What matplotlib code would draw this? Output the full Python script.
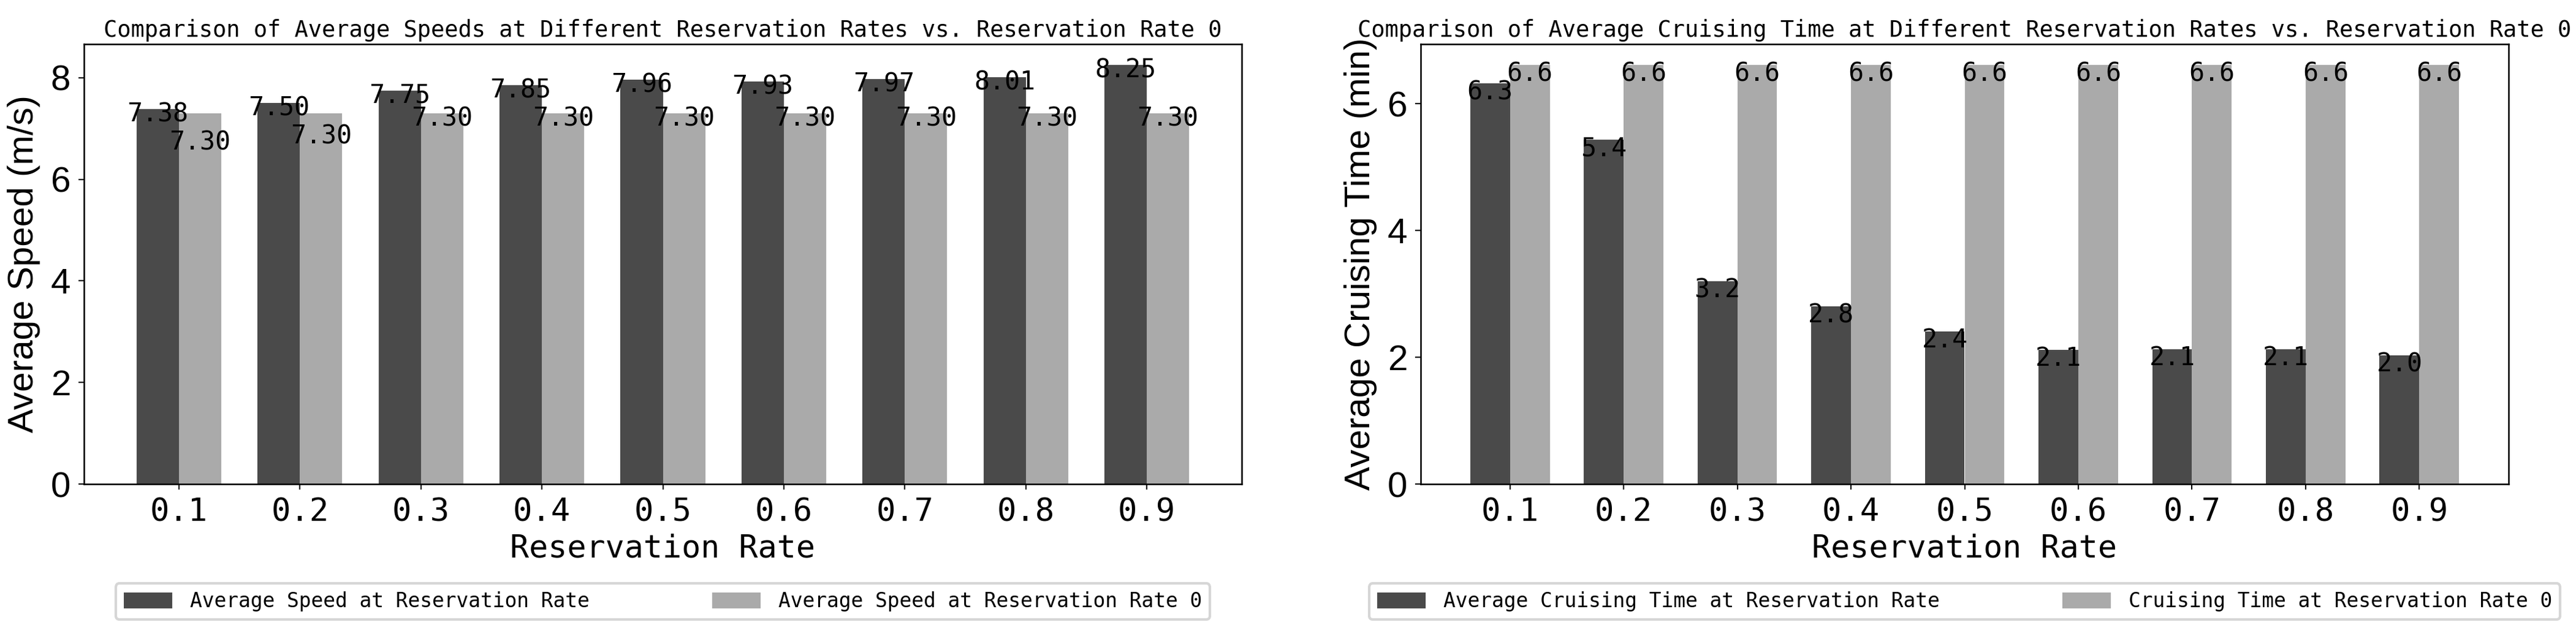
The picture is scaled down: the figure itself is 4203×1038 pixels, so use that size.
import matplotlib
matplotlib.use('Agg')
import matplotlib.pyplot as plt
import numpy as np

# default font for y ticks and y labels, a monospace one for the rest
plt.rcParams['font.family'] = ['Liberation Sans', 'DejaVu Sans']
MONO = 'DejaVu Sans Mono'

# x axis categories
rates = ['0.1', '0.2', '0.3', '0.4', '0.5', '0.6', '0.7', '0.8', '0.9']

# average speed (m/s)
speed_with_res = [7.38, 7.50, 7.75, 7.85, 7.96, 7.93, 7.97, 8.01, 8.25]
speed_rate0 = [7.30, 7.30, 7.30, 7.30, 7.30, 7.30, 7.30, 7.30, 7.30]

# average cruising time (min)
cruise_with_res = [6.32, 5.43, 3.20, 2.80, 2.41, 2.12, 2.13, 2.13, 2.03]
cruise_rate0 = [6.61, 6.61, 6.61, 6.61, 6.61, 6.61, 6.61, 6.61, 6.61]

DARK = '#4a4a4a'
LIGHT = '#aaaaaa'


def plot_panel(ax, with_res, rate0, fmt, title, ylabel, legend_labels, label_off):
    x = np.arange(len(rates))
    width = 0.35

    ax.bar(x - width / 2, with_res, width, color=DARK, label=legend_labels[0])
    ax.bar(x + width / 2, rate0, width, color=LIGHT, label=legend_labels[1])

    ax.set_xticks(x)
    ax.set_xticklabels(rates, family=MONO, fontsize=12.5)
    ax.tick_params(axis='y', labelsize=14)
    ax.tick_params(length=2.2, width=0.5, pad=3)
    for sp in ax.spines.values():
        sp.set_linewidth(0.6)

    ax.set_title(title, family=MONO, fontsize=8.9, pad=3)
    ax.set_xlabel('Reservation Rate', family=MONO, fontsize=12.4, labelpad=2)
    ax.set_ylabel(ylabel, fontsize=14, labelpad=4)

    # value labels, the reference one is pushed down when the two overlap
    ax.get_ylim()
    for i in range(len(rates)):
        a, b = with_res[i], rate0[i]
        ax.annotate(fmt.format(a), (x[i] - width / 2, a), xytext=(0, label_off),
                    textcoords='offset points', ha='center', va='center',
                    family=MONO, fontsize=10)
        ya = ax.transData.transform((0, a))[1]
        yb = ax.transData.transform((0, b))[1]
        if abs(ya - yb) < 25:
            pos, off = max(a, b), label_off - 11
        else:
            pos, off = b, label_off
        ax.annotate(fmt.format(b), (x[i] + width / 2, pos), xytext=(0, off),
                    textcoords='offset points', ha='center', va='center',
                    family=MONO, fontsize=10)

    ax.legend(loc='upper center', bbox_to_anchor=(0.5, -0.2256), ncol=2,
              prop={'family': MONO, 'size': 7.9}, borderaxespad=0,
              columnspacing=6.1, handlelength=2.4, handleheight=0.84,
              handletextpad=0.87)


fig = plt.figure(figsize=(14.01, 3.46), dpi=300)
ax1 = fig.add_axes([137 / 4203, 1 - 790 / 1038, (2026 - 137) / 4203, 718 / 1038])
ax2 = fig.add_axes([2318 / 4203, 1 - 790 / 1038, (4093 - 2318) / 4203, 718 / 1038])

plot_panel(ax1, speed_with_res, speed_rate0, '{:.2f}',
           'Comparison of Average Speeds at Different Reservation Rates vs. Reservation Rate 0',
           'Average Speed (m/s)',
           ['Average Speed at Reservation Rate', 'Average Speed at Reservation Rate 0'],
           -2)
plot_panel(ax2, cruise_with_res, cruise_rate0, '{:.1f}',
           'Comparison of Average Cruising Time at Different Reservation Rates vs. Reservation Rate 0',
           'Average Cruising Time (min)',
           ['Average Cruising Time at Reservation Rate', 'Cruising Time at Reservation Rate 0'],
           -3.5)

fig.savefig('out.png', dpi=300)
